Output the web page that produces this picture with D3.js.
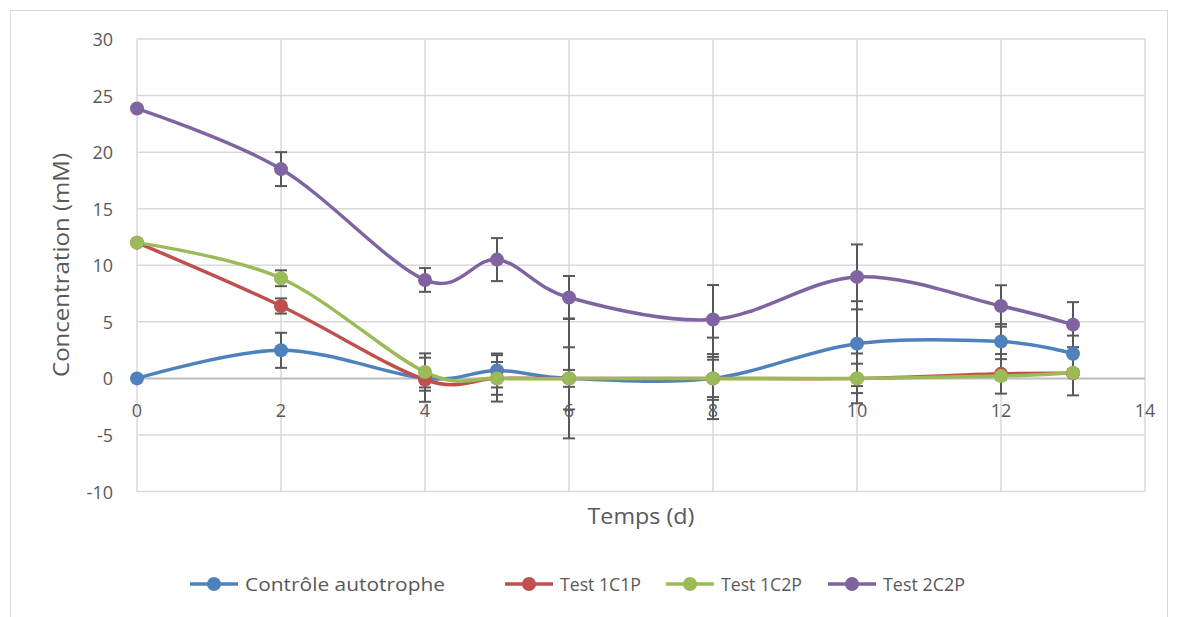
<!DOCTYPE html>
<html><head><meta charset="utf-8">
<script src="https://cdn.jsdelivr.net/npm/d3@7"></script>
<style>body{margin:0;background:#fff}svg{display:block}text{font-family:"Open Sans",Lato,sans-serif;fill:#595959}</style>
</head><body>
<svg id="c" width="1178" height="617"></svg>
<script>
const days = [0, 2, 4, 5, 6, 8, 10, 12, 13];
const seriesNames = ["Contrôle autotrophe", "Test 1C1P", "Test 1C2P", "Test 2C2P"];
const seriesColors = ["#4F81BD", "#C0504D", "#9BBB59", "#8064A2"];
const controle = [0, 2.48, 0, 0.7, 0, 0, 3.07, 3.25, 2.18];
const test1C1P = [12, 6.4, -0.12, 0, 0, 0, 0, 0.4, 0.45];
const test1C2P = [12, 8.85, 0.56, 0, 0, 0, 0, 0.2, 0.5];
const test2C2P = [23.85, 18.5, 8.7, 10.5, 7.15, 5.2, 8.97, 6.4, 4.75];
const errControle = [0, 1.55, 0.8, 1.5, 2.75, 3.6, 3.75, 1.55, 1.6];
const err1C1P = [0, 0.67, 1.95, 2.05, 0.75, 1.9, 2.2, 1.75, 1.95];
const err1C2P = [0, 0.7, 1.65, 1.45, 5.3, 1.65, 1.3, 0.3, 0.3];
const err2C2P = [0, 1.5, 1.05, 1.9, 1.9, 3.05, 2.87, 1.83, 1.99];
const xTicks = [0, 2, 4, 6, 8, 10, 12, 14];
const yTicks = [-10, -5, 0, 5, 10, 15, 20, 25, 30];
const xTitle = "Temps (d)";
const yTitle = "Concentration (mM)";

const values = [controle, test1C1P, test1C2P, test2C2P];
const errors = [errControle, err1C1P, err1C2P, err2C2P];

const svg = d3.select("#c");
svg.append("rect").attr("x",10.5).attr("y",10.5).attr("width",1157).attr("height",640)
  .attr("fill","#fff").attr("stroke","#d9d9d9").attr("stroke-width",1);

const x = d3.scaleLinear().domain([0,14]).range([137,1145]);
const y = d3.scaleLinear().domain([-10,30]).range([491.5,39]);

// grid
svg.append("g").selectAll("line").data(yTicks).join("line")
  .attr("x1",x(0)).attr("x2",x(14)).attr("y1",d=>y(d)).attr("y2",d=>y(d))
  .attr("stroke","#d9d9d9").attr("stroke-width",1.5);
svg.append("g").selectAll("line").data(xTicks).join("line")
  .attr("y1",y(-10)).attr("y2",y(30)).attr("x1",d=>x(d)).attr("x2",d=>x(d))
  .attr("stroke","#d9d9d9").attr("stroke-width",1.5);
svg.append("line").attr("x1",x(0)).attr("x2",x(14)).attr("y1",y(0)).attr("y2",y(0))
  .attr("stroke","#bfbfbf").attr("stroke-width",2);

// y labels
svg.append("g").selectAll("text").data(yTicks).join("text")
  .attr("x",113).attr("y",d=>y(d)).attr("text-anchor","end").attr("dominant-baseline","central")
  .attr("font-size",18).text(d=>d);

// lines
const line = d3.line().x((d,i)=>x(days[i])).y(d=>y(d)).curve(d3.curveCardinal.tension(0));
values.forEach((v,s)=>{
  svg.append("path").attr("d",line(v)).attr("fill","none")
    .attr("stroke",seriesColors[s]).attr("stroke-width",3.5).attr("stroke-linecap","round");
});

// error bars
const eb = svg.append("g").attr("stroke","#595959").attr("stroke-width",2);
values.forEach((v,s)=>{
  v.forEach((val,i)=>{
    const e = errors[s][i];
    if(!e) return;
    const cx = x(days[i]);
    eb.append("line").attr("x1",cx).attr("x2",cx).attr("y1",y(val+e)).attr("y2",y(val-e));
    eb.append("line").attr("x1",cx-6).attr("x2",cx+6).attr("y1",y(val+e)).attr("y2",y(val+e));
    eb.append("line").attr("x1",cx-6).attr("x2",cx+6).attr("y1",y(val-e)).attr("y2",y(val-e));
  });
});

// x labels
svg.append("g").selectAll("text").data(xTicks).join("text")
  .attr("x",d=>x(d)).attr("y",410).attr("text-anchor","middle").attr("dominant-baseline","central")
  .attr("font-size",18).text(d=>d);

// markers
values.forEach((v,s)=>{
  svg.append("g").selectAll("circle").data(v).join("circle")
    .attr("cx",(d,i)=>x(days[i])).attr("cy",d=>y(d)).attr("r",7)
    .attr("fill",seriesColors[s]);
});

// titles
svg.append("text").attr("x",641).attr("y",515).attr("text-anchor","middle")
  .attr("dominant-baseline","central").attr("font-size",22)
  .attr("textLength",107).attr("lengthAdjust","spacingAndGlyphs").text(xTitle);
svg.append("text").attr("transform","translate(60,265) rotate(-90)").attr("text-anchor","middle")
  .attr("dominant-baseline","central").attr("font-size",22)
  .attr("textLength",224).attr("lengthAdjust","spacingAndGlyphs").text(yTitle);

// legend
const legX = [190, 505, 666, 828];
const legW = [200, 81, 81, 82];
const lg = svg.append("g");
seriesNames.forEach((n,s)=>{
  const lx = legX[s], ly = 584;
  lg.append("line").attr("x1",lx).attr("x2",lx+48).attr("y1",ly).attr("y2",ly)
    .attr("stroke",seriesColors[s]).attr("stroke-width",3.5);
  lg.append("circle").attr("cx",lx+24).attr("cy",ly).attr("r",7).attr("fill",seriesColors[s]);
  lg.append("text").attr("x",lx+55).attr("y",ly).attr("dominant-baseline","central")
    .attr("font-size",19).attr("textLength",legW[s]).attr("lengthAdjust","spacingAndGlyphs").text(n);
});
</script>
</body></html>
